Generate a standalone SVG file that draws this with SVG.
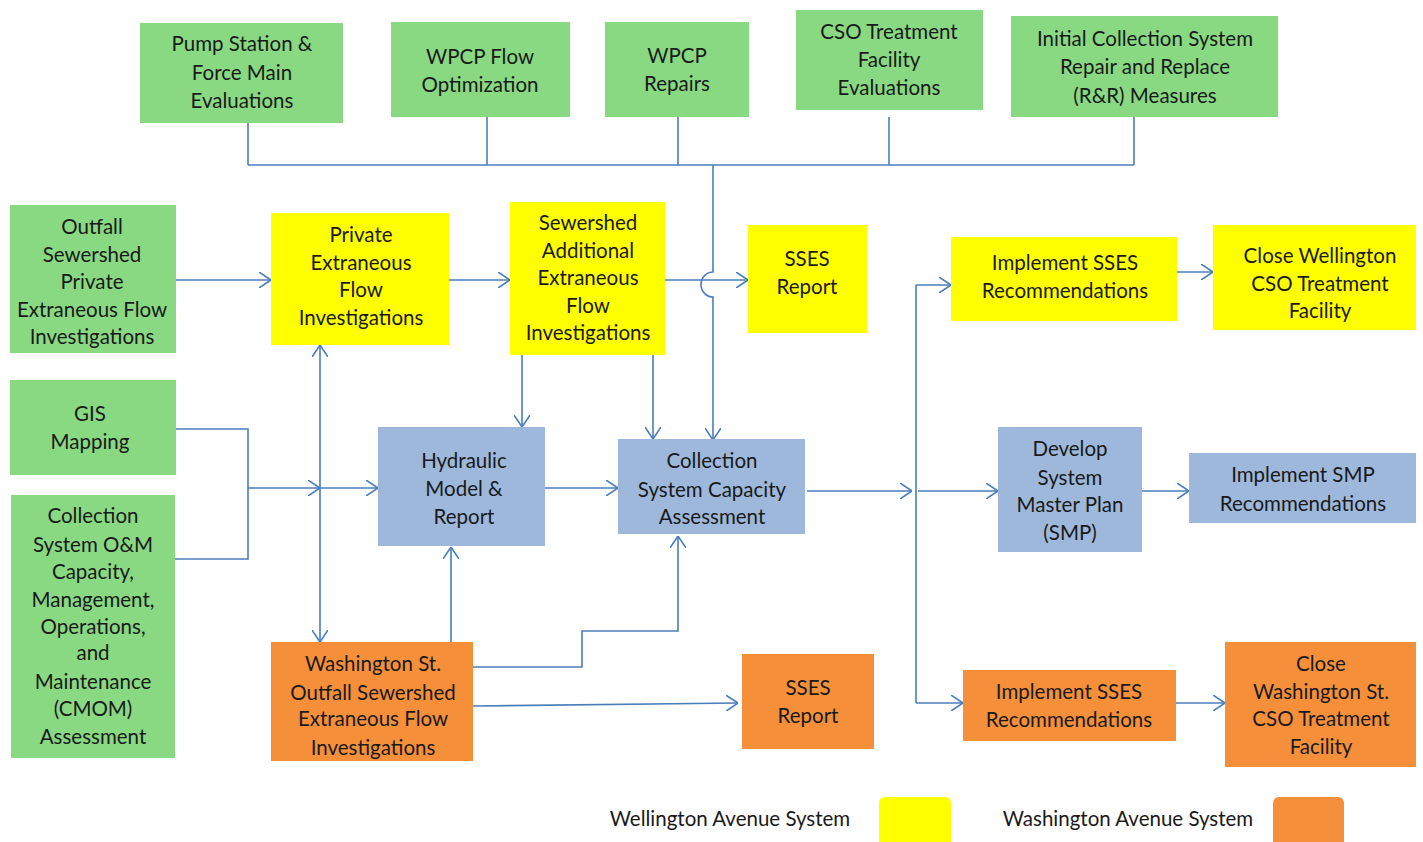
<svg xmlns="http://www.w3.org/2000/svg" width="1423" height="842" viewBox="0 0 1423 842">
<style>
.g{fill:#88d982}.y{fill:#ffff00}.b{fill:#9db8da}.o{fill:#f68f3a}
text{font-family:Lato,"Open Sans","Liberation Sans",sans-serif;font-size:20.5px;fill:#1a1a1a;text-anchor:middle}
.c{fill:none;stroke:#4a7ebb;stroke-width:1.6}
.a{marker-end:url(#ah)}
</style>
<defs>
<marker id="ah" viewBox="0 0 12 16" refX="12" refY="8" markerWidth="12" markerHeight="16" markerUnits="userSpaceOnUse" orient="auto-start-reverse">
<path d="M0,0 L12,8 L0,16" fill="none" stroke="#4a7ebb" stroke-width="1.6"/>
</marker>
</defs>
<rect width="1423" height="842" fill="#fff"/>

<g id="connectors">
<path class="c" d="M248,123 V165 M487,117 V165 M678,117 V165 M889,117 V165 M1134,117 V165 M248,165 H1134"/>
<path class="c a" d="M713,165 V272 A12,12.5 0 0 0 713,297 V440"/>
<path class="c a" d="M176,280 H271"/>
<path class="c a" d="M449,280 H510"/>
<path class="c a" d="M665,280 H748"/>
<path class="c a" d="M522,355 V427"/>
<path class="c a" d="M653,355 V439"/>
<path class="c" d="M176,429 H248 V559 H175"/>
<path class="c a" d="M248,488 H320"/>
<path class="c a" d="M320,488 H378"/>
<path class="c a" style="marker-start:url(#ah)" d="M320,345 V642"/>
<path class="c a" d="M545,488 H618"/>
<path class="c a" d="M451,642 V547"/>
<path class="c a" d="M473,667 H582 V631 H678 V536"/>
<path class="c a" d="M473,706 L738,703"/>
<path class="c a" d="M807,491 H912"/>
<path class="c" d="M916,285 V703"/>
<path class="c a" d="M916,285 H951"/>
<path class="c a" d="M918,491 H998"/>
<path class="c a" d="M916,703 H963"/>
<path class="c a" d="M1177,272 H1213"/>
<path class="c a" d="M1142,491 H1189"/>
<path class="c a" d="M1176,703 H1225"/>
</g>

<g id="pump"><rect class="g" x="140" y="23" width="203" height="100"/><text x="242" y="51">Pump Station &amp;</text><text x="242" y="80">Force Main</text><text x="242" y="108">Evaluations</text></g>
<g id="wpcpflow"><rect class="g" x="391" y="22" width="179" height="95"/><text x="480" y="64">WPCP Flow</text><text x="480" y="92">Optimization</text></g>
<g id="wpcprepairs"><rect class="g" x="605" y="22" width="144" height="95"/><text x="677" y="63">WPCP</text><text x="677" y="91">Repairs</text></g>
<g id="csoeval"><rect class="g" x="796" y="10" width="187" height="100"/><text x="889" y="39">CSO Treatment</text><text x="889" y="67">Facility</text><text x="889" y="95">Evaluations</text></g>
<g id="initial"><rect class="g" x="1011" y="16" width="267" height="101"/><text x="1145" y="46">Initial Collection System</text><text x="1145" y="74">Repair and Replace</text><text x="1145" y="103">(R&amp;R) Measures</text></g>

<g id="outfall"><rect class="g" x="10" y="205" width="166" height="148"/><text x="92" y="234">Outfall</text><text x="92" y="262">Sewershed</text><text x="92" y="289">Private</text><text x="92" y="317">Extraneous Flow</text><text x="92" y="344">Investigations</text></g>
<g id="gis"><rect class="g" x="10" y="380" width="166" height="95"/><text x="90" y="421">GIS</text><text x="90" y="449">Mapping</text></g>
<g id="cmom"><rect class="g" x="11" y="495" width="164" height="263"/><text x="93" y="523">Collection</text><text x="93" y="552">System O&amp;M</text><text x="93" y="579">Capacity,</text><text x="93" y="607">Management,</text><text x="93" y="634">Operations,</text><text x="93" y="660">and</text><text x="93" y="689">Maintenance</text><text x="93" y="716">(CMOM)</text><text x="93" y="744">Assessment</text></g>

<g id="private"><rect class="y" x="271" y="213" width="178" height="132"/><text x="361" y="242">Private</text><text x="361" y="270">Extraneous</text><text x="361" y="297">Flow</text><text x="361" y="325">Investigations</text></g>
<g id="sewershed"><rect class="y" x="510" y="202" width="155" height="153"/><text x="588" y="230">Sewershed</text><text x="588" y="258">Additional</text><text x="588" y="285">Extraneous</text><text x="588" y="313">Flow</text><text x="588" y="340">Investigations</text></g>
<g id="ssesY"><rect class="y" x="748" y="225" width="119" height="108"/><text x="807" y="266">SSES</text><text x="807" y="294">Report</text></g>
<g id="implY"><rect class="y" x="951" y="237" width="226" height="84"/><text x="1065" y="270">Implement SSES</text><text x="1065" y="298">Recommendations</text></g>
<g id="closeW"><rect class="y" x="1213" y="225" width="203" height="105"/><text x="1320" y="263">Close Wellington</text><text x="1320" y="291">CSO Treatment</text><text x="1320" y="318">Facility</text></g>

<g id="hydraulic"><rect class="b" x="378" y="427" width="167" height="119"/><text x="464" y="468">Hydraulic</text><text x="464" y="496">Model &amp;</text><text x="464" y="524">Report</text></g>
<g id="capacity"><rect class="b" x="618" y="439" width="187" height="95"/><text x="712" y="468">Collection</text><text x="712" y="497">System Capacity</text><text x="712" y="524">Assessment</text></g>
<g id="smp"><rect class="b" x="998" y="427" width="144" height="125"/><text x="1070" y="456">Develop</text><text x="1070" y="485">System</text><text x="1070" y="512">Master Plan</text><text x="1070" y="540">(SMP)</text></g>
<g id="implSMP"><rect class="b" x="1189" y="453" width="227" height="70"/><text x="1303" y="482">Implement SMP</text><text x="1303" y="511">Recommendations</text></g>

<g id="washington"><rect class="o" x="271" y="642" width="202" height="119"/><text x="373" y="671">Washington St.</text><text x="373" y="700">Outfall Sewershed</text><text x="373" y="726">Extraneous Flow</text><text x="373" y="755">Investigations</text></g>
<g id="ssesO"><rect class="o" x="742" y="654" width="132" height="95"/><text x="808" y="695">SSES</text><text x="808" y="723">Report</text></g>
<g id="implO"><rect class="o" x="963" y="670" width="213" height="71"/><text x="1069" y="699">Implement SSES</text><text x="1069" y="727">Recommendations</text></g>
<g id="closeWash"><rect class="o" x="1225" y="642" width="191" height="125"/><text x="1321" y="671">Close</text><text x="1321" y="699">Washington St.</text><text x="1321" y="726">CSO Treatment</text><text x="1321" y="754">Facility</text></g>

<g id="legend">
<text x="730" y="826">Wellington Avenue System</text>
<rect class="y" x="879" y="797" width="72" height="60" rx="6"/>
<text x="1128" y="826">Washington Avenue System</text>
<rect class="o" x="1273" y="797" width="71" height="60" rx="6"/>
</g>
</svg>
